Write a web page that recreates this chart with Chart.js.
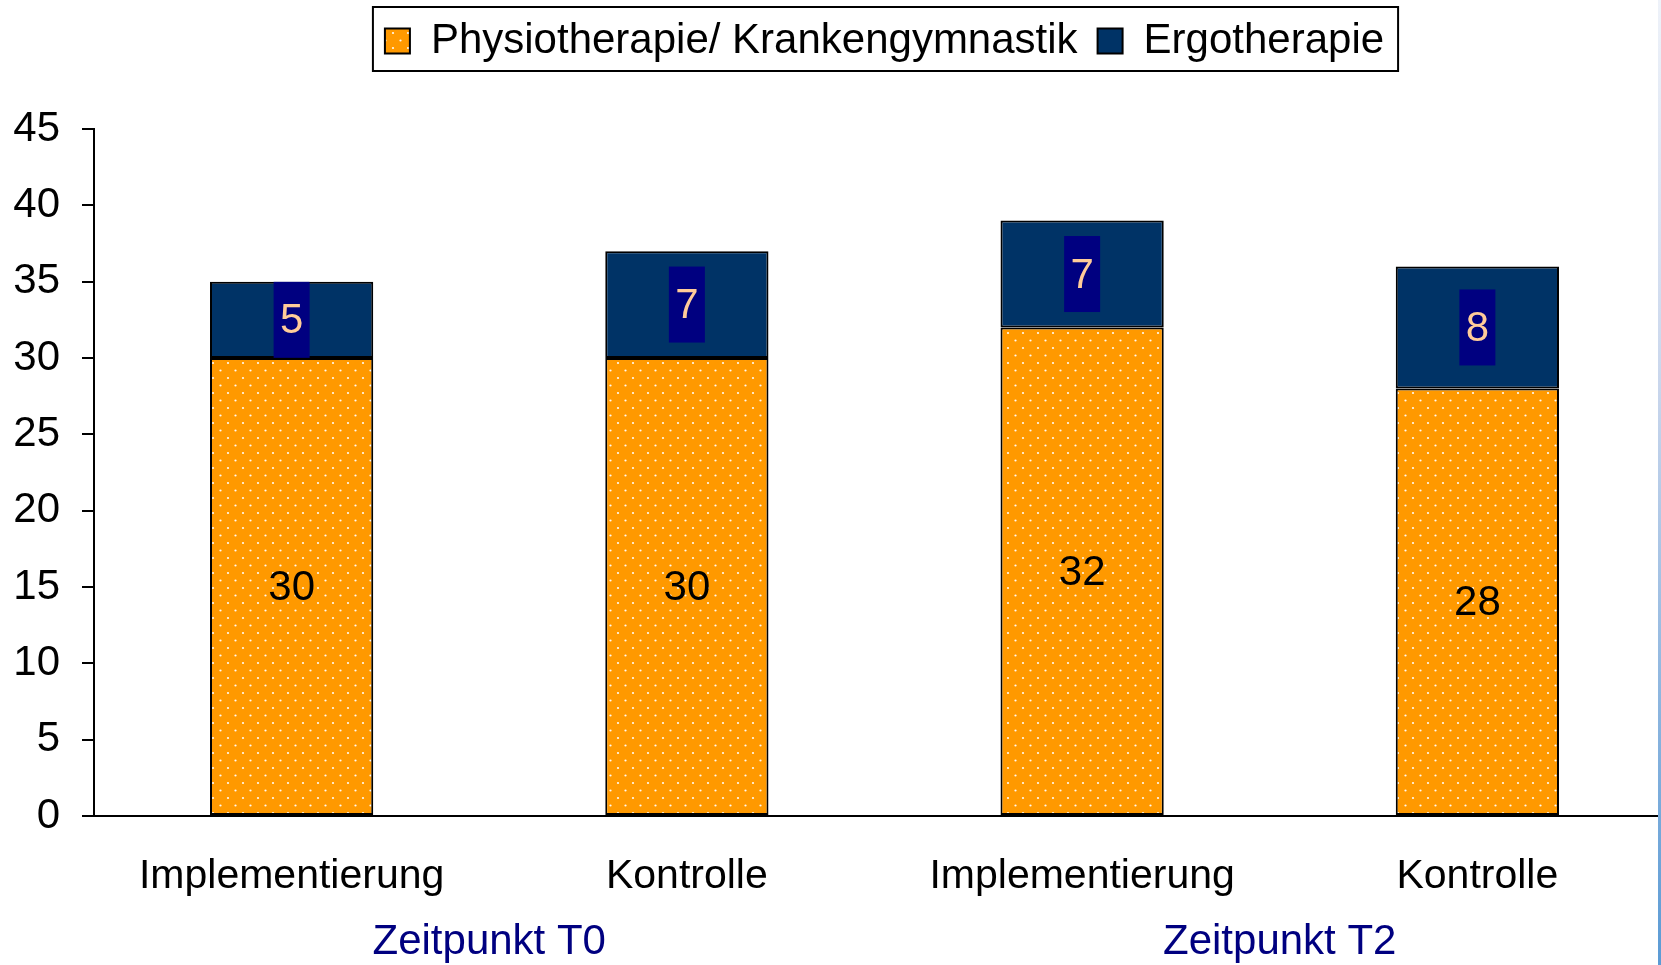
<!DOCTYPE html>
<html>
<head>
<meta charset="utf-8">
<script src="https://cdn.jsdelivr.net/npm/chart.js@4/dist/chart.umd.min.js"></script>
<style>
  html, body { margin: 0; padding: 0; background: #fff; overflow: hidden; }
  #wrap { position: relative; width: 1661px; height: 965px; overflow: hidden; }
  #rand { position: absolute; left: 1658px; top: 0; width: 3px; height: 965px;
          background: linear-gradient(#eef2f9, #c9d6ec 40%, #5b9bd5); }
</style>
</head>
<body>
<div id="wrap">
  <canvas id="chart" width="1675" height="965"></canvas>
  <div id="rand"></div>
</div>
<script>
// Daten
const kategorien = ["Implementierung", "Kontrolle", "Implementierung", "Kontrolle"];
const zeitpunkte = ["Zeitpunkt T0", "Zeitpunkt T2"];
const physio = [30, 30, 32, 28];
const ergo = [5, 7, 7, 8];
const serienNamen = ["Physiotherapie/ Krankengymnastik", "Ergotherapie"];
const yMax = 45;
const yStep = 5;

const SCHRIFT = "'Liberation Sans', Arial, sans-serif";

// Orange mit weissen Punkten
function punktMuster() {
  const c = document.createElement("canvas");
  c.width = 15; c.height = 15;
  const g = c.getContext("2d");
  g.fillStyle = "#ff9900";
  g.fillRect(0, 0, 15, 15);
  g.fillStyle = "rgba(255,255,255,0.95)";
  g.beginPath(); g.arc(3, 3, 1.1, 0, Math.PI * 2); g.fill();
  g.beginPath(); g.arc(10.5, 10.5, 1.1, 0, Math.PI * 2); g.fill();
  return g.createPattern(c, "repeat");
}

// Werte in die Segmente schreiben
const wertePlugin = {
  id: "werte",
  afterDatasetsDraw(chart) {
    const ctx = chart.ctx;
    ctx.save();
    ctx.font = "42px " + SCHRIFT;
    ctx.textAlign = "center";
    ctx.textBaseline = "middle";
    chart.data.datasets.forEach((ds, i) => {
      const meta = chart.getDatasetMeta(i);
      meta.data.forEach((bar, j) => {
        const mitte = (bar.y + bar.base) / 2;
        if (i === 1) {
          ctx.fillStyle = "#000080";
          ctx.fillRect(bar.x - 18, mitte - 38, 36, 76);
          ctx.fillStyle = "#ffcc99";
        } else {
          ctx.fillStyle = "#000";
        }
        ctx.fillText(String(ds.data[j]), bar.x, mitte + 2);
      });
    });
    ctx.restore();
  }
};

// Rahmen um die Legende
const legendenRahmen = {
  id: "legendenRahmen",
  afterDraw(chart) {
    const boxes = chart.legend && chart.legend.legendHitBoxes;
    if (!boxes || !boxes.length) return;
    const links = Math.min(...boxes.map(b => b.left)) - 12;
    const rechts = Math.max(...boxes.map(b => b.left + b.width)) + 14;
    const mitteY = boxes[0].top + boxes[0].height / 2;
    const ctx = chart.ctx;
    ctx.save();
    ctx.strokeStyle = "#000";
    ctx.lineWidth = 2;
    ctx.strokeRect(links, mitteY - 34, rechts - links, 64);
    ctx.restore();
  }
};

const muster = punktMuster();

new Chart(document.getElementById("chart"), {
  type: "bar",
  data: {
    labels: kategorien,
    datasets: [
      {
        label: serienNamen[0],
        data: physio,
        backgroundColor: muster,
        borderColor: "#000",
        borderWidth: 2,
        borderSkipped: false,
        categoryPercentage: 1,
        barPercentage: 0.413
      },
      {
        label: serienNamen[1],
        data: ergo,
        backgroundColor: "#003366",
        borderColor: "#000",
        borderWidth: 2,
        borderSkipped: false,
        categoryPercentage: 1,
        barPercentage: 0.413
      }
    ]
  },
  options: {
    responsive: false,
    animation: false,
    layout: { padding: { left: 0, top: 0, right: 0, bottom: 0 } },
    plugins: {
      tooltip: { enabled: false },
      legend: {
        position: "top",
        fullSize: false,
        weight: 1000,
        labels: {
          color: "#000",
          font: { family: SCHRIFT, size: 42 },
          boxWidth: 25,
          boxHeight: 25,
          padding: 20
        }
      },
      // Abstandshalter zwischen Legende und Diagramm
      title: {
        display: true,
        text: " ",
        position: "top",
        weight: 100,
        font: { size: 10 },
        padding: { top: 0, bottom: 45 }
      }
    },
    scales: {
      x: {
        stacked: true,
        offset: true,
        grid: { display: false, drawTicks: false },
        border: { display: true, color: "#000", width: 2 },
        ticks: {
          color: "#000",
          font: { family: SCHRIFT, size: 41 },
          padding: 36,
          maxRotation: 0,
          autoSkip: false
        },
        afterFit(s) { s.height = 90; }
      },
      x2: {
        type: "category",
        position: "bottom",
        labels: zeitpunkte,
        offset: true,
        grid: { display: false, drawTicks: false },
        border: { display: false },
        ticks: {
          color: "#000080",
          font: { family: SCHRIFT, size: 42 },
          padding: 11,
          maxRotation: 0
        },
        afterFit(s) { s.height = 59; }
      },
      y: {
        stacked: true,
        min: 0,
        max: yMax,
        grid: { drawOnChartArea: false, drawTicks: true, tickLength: 12, color: "#000", lineWidth: 2 },
        border: { display: true, color: "#000", width: 2 },
        ticks: {
          stepSize: yStep,
          color: "#000",
          font: { family: SCHRIFT, size: 42 },
          padding: 22
        },
        afterFit(s) { s.width = 94; }
      }
    }
  },
  plugins: [wertePlugin, legendenRahmen]
});
</script>
</body>
</html>
